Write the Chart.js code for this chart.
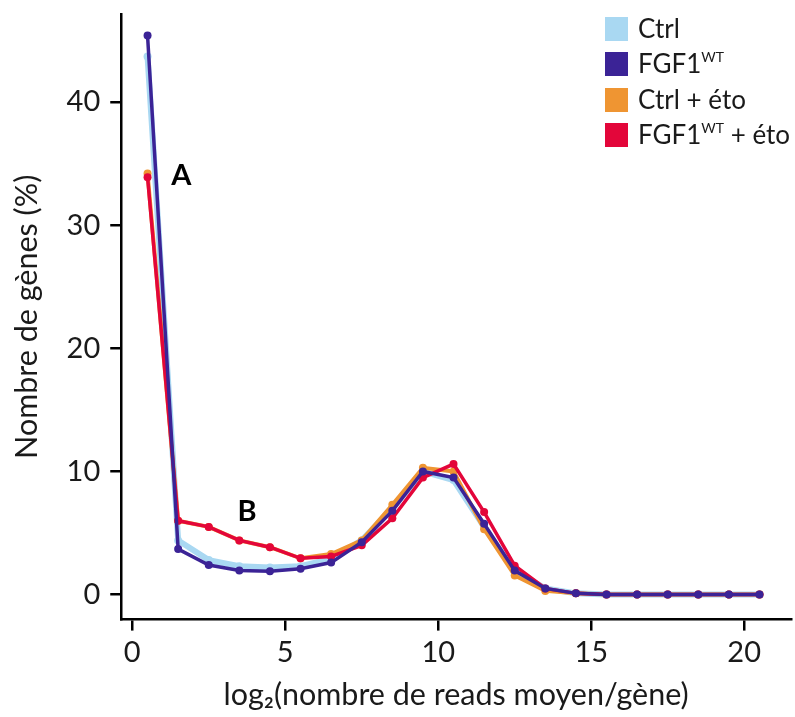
<!DOCTYPE html>
<html>
<head>
<meta charset="utf-8">
<script src="https://cdn.jsdelivr.net/npm/chart.js@4/dist/chart.umd.min.js"></script>
<style>
  html, body { margin: 0; padding: 0; background: #fff; }
  #wrap { position: relative; width: 795px; height: 717px; }
  #legend { position: absolute; left: 605px; top: 15px; font-family: Lato, sans-serif; font-size: 26px; color: #1a1a1a; }
  #legend div { height: 35.3px; line-height: 26px; white-space: nowrap; }
  #legend span.box { display: inline-block; width: 23px; height: 24px; vertical-align: -3px; margin-right: 10px; }
  #legend sup { font-size: 14px; vertical-align: 11px; line-height: 0; }
</style>
</head>
<body>
<div id="wrap">
  <canvas id="chart" width="795" height="717"></canvas>
  <div id="legend">
    <div><span class="box" style="background:#A9D8F2"></span>Ctrl</div>
    <div><span class="box" style="background:#3B2396"></span>FGF1<sup>WT</sup></div>
    <div><span class="box" style="background:#EF9532"></span>Ctrl + éto</div>
    <div><span class="box" style="background:#E3063A"></span>FGF1<sup>WT</sup> + éto</div>
  </div>
</div>
<script>
// x positions: bins of log2(mean reads / gene)
const bins = [0.5, 1.5, 2.5, 3.5, 4.5, 5.5, 6.5, 7.5, 8.5, 9.5, 10.5, 11.5, 12.5, 13.5, 14.5, 15.5, 16.5, 17.5, 18.5, 19.5, 20.5];

const ctrl     = [43.7, 4.4, 2.8, 2.3, 2.2, 2.3, 2.9, 4.4, 7.0, 10.0, 9.3, 5.5, 1.9, 0.5, 0.1, 0, 0, 0, 0, 0, 0];
const fgf1     = [45.4, 3.7, 2.4, 1.95, 1.9, 2.1, 2.6, 4.25, 6.8, 10.0, 9.5, 5.75, 1.95, 0.5, 0.1, 0, 0, 0, 0, 0, 0];
const ctrlEto  = [34.2, 6.0, 5.5, 4.4, 3.85, 2.95, 3.3, 4.4, 7.3, 10.3, 10.0, 5.3, 1.55, 0.3, 0.1, 0, 0, 0, 0, 0, 0];
const fgf1Eto  = [33.9, 6.0, 5.5, 4.4, 3.85, 2.95, 3.1, 4.0, 6.2, 9.5, 10.6, 6.7, 2.35, 0.5, 0.1, 0, 0, 0, 0, 0, 0];

const xTicks = [0, 5, 10, 15, 20];
const yTicks = [0, 10, 20, 30, 40];

// "A" and "B" callouts, in data coordinates
const notes = [
    { text: 'A', x: 1.6, y: 34.0 },
    { text: 'B', x: 3.75, y: 6.75 }
];

function toPoints(values) {
    return values.map((v, i) => ({ x: bins[i], y: v }));
}

function series(label, values, color, width, radius) {
    return {
        label: label,
        data: toPoints(values),
        borderColor: color,
        backgroundColor: color,
        borderWidth: width,
        pointRadius: radius,
        pointHoverRadius: radius,
        pointBorderWidth: 0,
        tension: 0
    };
}

const notesPlugin = {
    id: 'notes',
    afterDatasetsDraw(chart) {
        const ctx = chart.ctx;
        const xs = chart.scales.x, ys = chart.scales.y;
        ctx.save();
        ctx.font = 'bold 29px Lato, sans-serif';
        ctx.fillStyle = '#000';
        ctx.textAlign = 'center';
        ctx.textBaseline = 'middle';
        notes.forEach(n => ctx.fillText(n.text, xs.getPixelForValue(n.x), ys.getPixelForValue(n.y)));
        ctx.restore();
    }
};

const font = { family: 'Lato, sans-serif', size: 29 };
const titleFont = { family: 'Lato, sans-serif', size: 30.5 };

new Chart(document.getElementById('chart'), {
    type: 'line',
    data: {
        datasets: [
            series('Ctrl', ctrl, '#A9D8F2', 6, 4),
            series('Ctrl + éto', ctrlEto, '#EF9532', 4, 4),
            series('FGF1WT + éto', fgf1Eto, '#E3063A', 3.5, 4),
            series('FGF1WT', fgf1, '#3B2396', 3.5, 4)
        ].reverse()
    },
    options: {
        responsive: false,
        animation: false,
        layout: { padding: { top: 14, right: 2, left: 9, bottom: 4 } },
        plugins: {
            legend: { display: false },
            tooltip: { enabled: false }
        },
        scales: {
            x: {
                type: 'linear',
                min: -0.36,
                max: 21.53,
                afterBuildTicks: s => { s.ticks = xTicks.map(v => ({ value: v })); },
                ticks: { color: '#1a1a1a', font: font, padding: 5, maxRotation: 0 },
                grid: { drawOnChartArea: false, color: '#000', lineWidth: 2.5, tickLength: 11 },
                border: { color: '#000', width: 2.5 },
                title: { display: true, text: 'log\u2082(nombre de reads moyen/gène)', color: '#1a1a1a', font: titleFont, padding: { top: 1, bottom: 0 } }
            },
            y: {
                min: -2.03,
                max: 47.15,
                afterBuildTicks: s => { s.ticks = yTicks.map(v => ({ value: v })); },
                afterFit: s => { s.paddingTop = 0; s.paddingBottom = 0; },
                ticks: { color: '#1a1a1a', font: font, padding: 10 },
                grid: { drawOnChartArea: false, color: '#000', lineWidth: 2.5, tickLength: 11 },
                border: { color: '#000', width: 2.5 },
                title: { display: true, text: 'Nombre de gènes (%)', color: '#1a1a1a', font: titleFont, padding: { top: 0, bottom: 11 } }
            }
        }
    },
    plugins: [notesPlugin]
});
</script>
</body>
</html>
